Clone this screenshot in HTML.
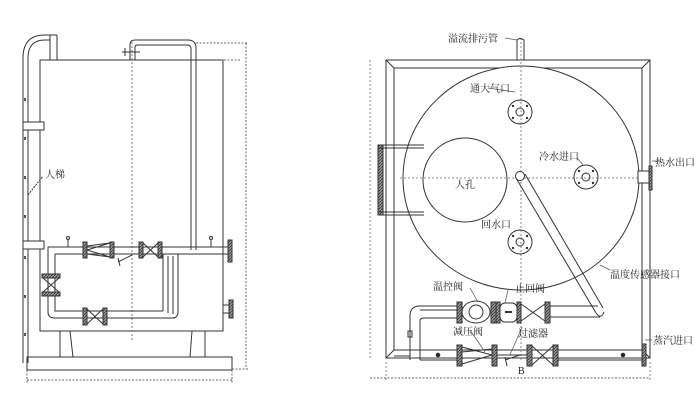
<!DOCTYPE html>
<html><head><meta charset="utf-8"><style>
html,body{margin:0;padding:0;background:#fff;width:700px;height:412px;overflow:hidden}
text{font-family:"Liberation Serif","Noto Serif CJK SC","Noto Sans CJK SC",serif;font-size:10px;fill:#222}
</style></head><body>
<svg width="700" height="412" viewBox="0 0 700 412" xmlns="http://www.w3.org/2000/svg">
<defs>
<pattern id="h" width="3" height="3" patternUnits="userSpaceOnUse"><rect width="3" height="3" fill="#999"/><path d="M0 3L3 0" stroke="#333" stroke-width="0.8"/></pattern>
</defs>
<g fill="none" stroke="#333" stroke-width="1">
<!-- LEFT VIEW -->
<rect x="40" y="60" width="183" height="271"/>
<line x1="132" y1="42" x2="132" y2="340" stroke-dasharray="2,2" stroke="#777"/>
<!-- ladder pipe -->
<path d="M50 60V35H45Q23 35 23 58V363"/>
<path d="M57 60V35"/>
<path d="M28 363V58Q28 40 45 40H50" />
<path d="M45 35H57"/>
<rect x="23" y="122" width="21" height="8" fill="#fff"/>
<rect x="23" y="241" width="21" height="8" fill="#fff"/>
<g fill="#555" stroke="none"><rect x="24" y="98" width="2" height="3"/><rect x="24" y="137" width="2" height="3"/><rect x="24" y="176" width="2" height="3"/><rect x="24" y="215" width="2" height="3"/><rect x="24" y="256" width="2" height="3"/><rect x="24" y="295" width="2" height="3"/><rect x="24" y="333" width="2" height="3"/></g>
<line x1="28" y1="195" x2="43" y2="176" stroke-dasharray="2,1"/>
<!-- right inverted U pipe -->
<path d="M130 60V45Q130 40 135 40H188Q196 40 196 48V250"/>
<path d="M135 60V47Q135 45 138 45H187Q191 45 191 49V250"/>
<line x1="122" y1="52" x2="140" y2="52"/><line x1="125" y1="48" x2="125" y2="56"/>
<!-- horizontal pipe -->
<path d="M48 247H228M55 254H163M178 254H228"/>
<rect x="228" y="240" width="4" height="22" fill="url(#h)"/>
<line x1="68" y1="240" x2="68" y2="247"/><circle cx="68" cy="238" r="1.5"/>
<line x1="211" y1="240" x2="211" y2="247"/><circle cx="211" cy="238" r="1.5"/>
<!-- reducer -->
<rect x="83" y="242" width="4" height="16" fill="url(#h)"/><rect x="110" y="242" width="4" height="16" fill="url(#h)"/>
<path d="M87 246L110 243M87 254L110 257M87 250L110 243M87 250L110 257"/>
<path d="M118 262L132 255M118 258L120 266"/>
<!-- gate valve top -->
<rect x="139" y="242" width="4" height="16" fill="url(#h)"/><rect x="158" y="242" width="4" height="16" fill="url(#h)"/>
<path d="M143 243L158 257M143 257L158 243"/>
<!-- left vertical pipe -->
<path d="M48 247V312Q48 318 55 318H175M55 254V311H163"/>
<rect x="42" y="274" width="18" height="4" fill="url(#h)"/><rect x="42" y="292" width="18" height="4" fill="url(#h)"/>
<path d="M43 278L59 292M43 292L59 278"/>
<!-- bottom valve -->
<rect x="83" y="308" width="4" height="17" fill="url(#h)"/><rect x="103" y="308" width="4" height="17" fill="url(#h)"/>
<path d="M87 309L103 324M87 324L103 309"/>
<!-- right loop -->
<path d="M163 254V311M168 256V313M173 256V314M178 254V312Q178 318 172 318"/>
<path d="M163 254H178"/>
<!-- side flange -->
<path d="M223 305H229M223 313H229"/><rect x="229" y="300" width="4" height="18" fill="url(#h)"/>
<!-- legs -->
<path d="M60 331V357M70 331L73 357M205 331V357M192 331L190 357"/>
<rect x="27" y="357" width="205" height="13"/>
<g stroke-dasharray="2,1.5" stroke="#666">
<path d="M27 380H232M27 370V384M232 370V384"/>
<path d="M246 43V369M196 43H248M232 369H248"/>
<path d="M224 60H240"/>
</g>
<!-- RIGHT VIEW -->
<rect x="386" y="60" width="264" height="298"/>
<rect x="394" y="68" width="248" height="282"/>
<path d="M386 60L394 68M650 60L642 68M386 358L394 350M650 358L642 350"/>
<ellipse cx="521" cy="178" rx="118" ry="112" fill="#fff"/>
<g stroke-dasharray="2,2" stroke="#888"><path d="M521 38V360M400 178H640M370 60V358M386 362V380M650 362V380"/></g>
<path d="M370 378H650" stroke-dasharray="2,1.5" stroke="#666"/>
<circle cx="465" cy="180" r="42"/>
<!-- flanges -->
<g><circle cx="520" cy="112" r="12"/><circle cx="520" cy="112" r="4"/>
<circle cx="586" cy="177" r="12"/><circle cx="586" cy="177" r="4"/>
<circle cx="520" cy="242" r="12"/><circle cx="520" cy="242" r="4"/></g>
<g fill="#333" stroke="none">
<circle cx="513" cy="106" r="1.2"/><circle cx="527" cy="106" r="1.2"/><circle cx="513" cy="118" r="1.2"/><circle cx="527" cy="118" r="1.2"/>
<circle cx="579" cy="171" r="1.2"/><circle cx="593" cy="171" r="1.2"/><circle cx="579" cy="183" r="1.2"/><circle cx="593" cy="183" r="1.2"/>
<circle cx="513" cy="236" r="1.2"/><circle cx="527" cy="236" r="1.2"/><circle cx="513" cy="248" r="1.2"/><circle cx="527" cy="248" r="1.2"/>
</g>
<!-- top pipe -->
<path d="M517 60V40Q520 37 524 40V60"/>
<!-- right outlet -->
<rect x="638" y="171" width="12" height="12" fill="#fff"/><rect x="649" y="166" width="3" height="24" fill="url(#h)"/>
<!-- left handles -->
<rect x="378" y="145" width="5" height="70" fill="url(#h)"/>
<path d="M378 145H424M378 212H424M378 148H424M378 215H424"/>
<!-- diagonal pipe -->
<path d="M516 178L596 313M525 174L603 308"/>
<circle cx="520" cy="176" r="4.5" fill="#fff"/>
<path d="M596 313Q601 320 604 312"/>
<!-- top valve row -->
<path d="M420 310H458M425 318H458M550 306H598M550 317H600"/>
<path d="M410 360V316Q410 306 420 306H458M420 360V320Q420 318 425 318"/>
<rect x="408" y="331" width="4" height="6"/>
<rect x="457" y="302" width="5" height="21" fill="url(#h)"/><rect x="491" y="302" width="5" height="21" fill="url(#h)"/>
<ellipse cx="476" cy="312" rx="14" ry="11" fill="#fff"/><circle cx="476" cy="312" r="7"/>
<rect x="496" y="302" width="4" height="21" fill="url(#h)"/>
<rect x="500" y="303" width="17" height="19" rx="5" fill="#fff"/><path d="M505 312H512" stroke-width="2"/>
<rect x="517" y="302" width="4" height="21" fill="url(#h)"/><rect x="545" y="302" width="5" height="21" fill="url(#h)"/>
<path d="M521 304L545 321M521 321L545 304"/>
<!-- bottom row -->
<path d="M394 350H410M394 356H410M420 350H457M420 360H457M497 355H527M557 350H642M557 360H642"/>
<rect x="457" y="345" width="5" height="21" fill="url(#h)"/><rect x="492" y="345" width="5" height="21" fill="url(#h)"/>
<path d="M462 347L492 355M462 364L492 355M462 352L492 349"/>
<rect x="527" y="345" width="5" height="21" fill="url(#h)"/><rect x="553" y="345" width="5" height="21" fill="url(#h)"/>
<path d="M532 346L553 365M532 365L553 346"/>
<path d="M505 360L520 355M505 357L507 366"/>
<rect x="642" y="344" width="4" height="22" fill="url(#h)"/>
<circle cx="438" cy="355" r="1.8" fill="#222"/><circle cx="623" cy="355" r="1.8" fill="#222"/>
<!-- leader lines -->
<g stroke="#555" stroke-width="0.7">
<path d="M505 38L517 40M488 88L515 92M577 158L583 165M652 161L660 161M600 265L610 270M470 288L478 302M508 290L505 303M470 330L485 352M522 327L510 355M645 340L652 340"/>
</g>
</g>
<text x="45" y="178">人梯</text>
<text x="448" y="42">溢流排污管</text>
<text x="470" y="92">通大气口</text>
<text x="539" y="160">冷水进口</text>
<text x="655" y="166">热水出口</text>
<text x="455" y="188" font-size="12">人孔</text>
<text x="481" y="228">回水口</text>
<text x="610" y="278">温度传感器接口</text>
<text x="433" y="290">温控阀</text>
<text x="515" y="292">止回阀</text>
<text x="453" y="335">减压阀</text>
<text x="518" y="337">过滤器</text>
<text x="653" y="344">蒸汽进口</text>
<text x="518" y="374" font-size="7">B</text>
</svg>
</body></html>
